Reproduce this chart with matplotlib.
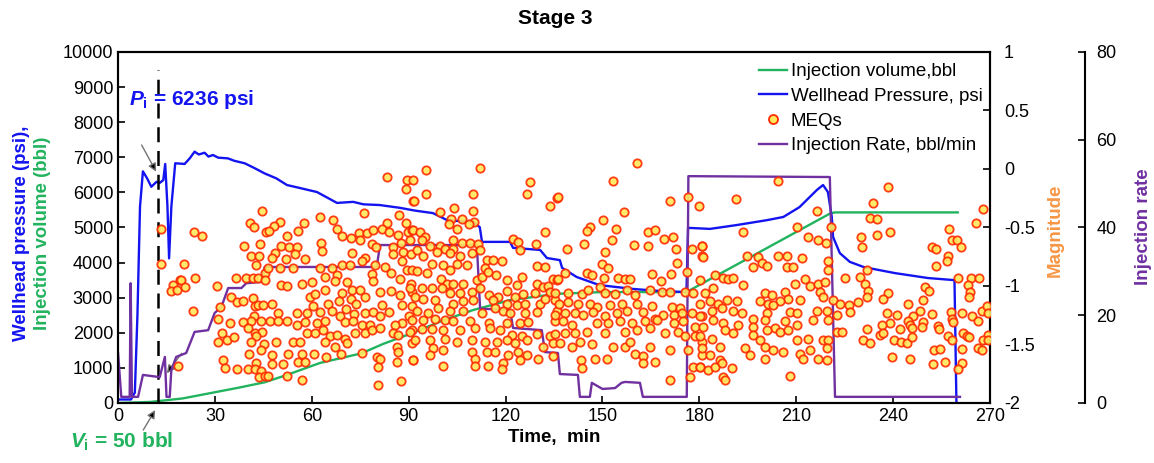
import matplotlib.pyplot as plt
from matplotlib.lines import Line2D
from matplotlib.ticker import FuncFormatter

plt.rcParams["font.family"] = ["Liberation Sans", "DejaVu Sans"]
plt.rcParams["font.size"] = 13
plt.rcParams["axes.unicode_minus"] = False
plt.rcParams["mathtext.fontset"] = "custom"
plt.rcParams["mathtext.it"] = "Liberation Sans:italic:bold"
plt.rcParams["mathtext.rm"] = "Liberation Sans:bold"
plt.rcParams["mathtext.bf"] = "Liberation Sans:bold"

BLUE = "#1414F0"
GREEN = "#22B35E"
PURPLE = "#7030A0"
ORANGE = "#F79646"
MEQ_FACE = "#FFE85C"
MEQ_EDGE = "#FF2A00"

# wellhead pressure, psi
whp_time = [0, 4.0, 5.2, 6.0, 6.8, 7.7, 9.0, 10.3, 11.9, 12.9, 14.0, 14.6, 15.3, 15.8, 16.5, 17.7,
            20.6, 22.2, 23.7, 25.0, 26.8, 28.0, 29.4, 31.0, 34.0, 36.0, 39.2, 42.3, 45.4, 49.0,
            52.3, 56.3, 61.6, 67.8, 72.8, 76.0, 81.0, 87.3, 92.0, 97.5, 101.9, 106.0, 110.0,
            112.0, 112.7, 121.4, 122.3, 130.7, 132.8, 136.8, 137.5, 142.0, 149.0, 159.4, 167.8,
            176.0, 176.5, 183.3, 191.6, 201.0, 206.0, 211.0, 216.4, 218.3, 219.8, 221.0, 221.4,
            223.5, 226.6, 231.0, 240.6, 250.8, 259.0, 259.6]
whp_psi = [100, 100, 300, 2500, 5600, 6600, 6400, 6160, 6300, 6270, 6350, 6810, 5590, 4120, 5590,
           6830, 6810, 6970, 7160, 7080, 7130, 7020, 7065, 6990, 6970, 6900, 6830, 6690, 6540,
           6400, 6210, 6125, 6010, 5700, 5730, 5660, 5640, 5560, 5480, 5410, 5210, 5180, 5160,
           5010, 4590, 4590, 4420, 4360, 4130, 4070, 3850, 3590, 3360, 3250, 3190, 3160, 4990,
           4960, 5070, 5210, 5300, 5580, 6070, 6210, 6010, 5300, 4730, 4270, 4020, 3870, 3700,
           3560, 3500, 0]

# cumulative injection volume, bbl
vol_time = [0, 10, 20, 28.5, 37, 45.4, 52.3, 62.5, 75.4, 82, 90.9, 100, 110, 121.4, 135.8, 150,
            176, 220.5, 222, 260]
vol_bbl = [0, 30, 130, 280, 430, 590, 800, 1140, 1415, 1680, 1985, 2330, 2650, 2930, 3110, 3160,
           3160, 5400, 5430, 5430]

# injection rate, bbl/min
rate_time = [0, 1.0, 3.6, 3.9, 4.3, 6.2, 7.7, 12.9, 14.5, 15.0, 16.0, 16.5, 18.0, 21.1, 23.7,
             27.9, 29.9, 32.0, 34.1, 38.2, 39.7, 44.4, 45.4, 80.1, 81.1, 111.1, 112.1, 121.4,
             122.3, 131.2, 132.2, 136.2, 136.8, 142.4, 143.0, 146.1, 146.7, 150, 153.9, 155.9,
             157.0, 161.6, 162.5, 176.1, 176.6, 220.4, 222.0, 260.7]
rate_bpm = [11.4, 1.4, 1.4, 27.3, 1.4, 1.4, 6.4, 5.9, 10.5, 1.4, 1.4, 7.5, 10.5, 11.4, 16.2, 16.6,
            20.5, 21.9, 26.2, 26.2, 27.3, 27.6, 31, 31, 36, 36, 21.5, 21.2, 17.1, 16.6, 11.6,
            11.4, 6.6, 6.4, 1.4, 1.4, 4.6, 3.2, 3.4, 4.6, 4.8, 4.6, 1.4, 1.4, 51.7, 51.5, 1.4, 1.4]

# microseismic events (time in min, magnitude)
meqs = [
    (13.4, -0.51), (13.4, -0.81), (23.5, -0.54), (26.0, -0.57), (20.4, -0.81), (23.7, -0.93),
    (19.1, -0.95), (17.0, -0.99), (16.5, -1.04), (18.4, -1.03), (19.6, -0.95), (20.8, -1.01),
    (23.2, -1.21), (30.6, -1.00), (31.7, -1.18), (31.0, -1.28), (32.3, -1.40), (33.8, -1.46),
    (31.0, -1.48), (35.9, -1.44), (34.6, -1.32), (36.6, -0.93), (39.7, -0.93), (41.8, -0.93),
    (43.3, -0.93), (44.7, -0.36), (40.8, -0.46), (42.0, -0.50), (45.9, -0.54), (43.9, -0.64),
    (39.0, -0.66), (41.1, -0.74), (43.5, -0.74), (42.8, -0.82), (45.4, -0.89), (35.1, -1.09),
    (36.8, -1.14), (38.7, -1.13), (41.8, -1.10), (42.3, -1.17), (43.3, -1.16), (44.9, -1.16),
    (42.1, -1.26), (44.4, -1.30), (41.1, -1.30), (38.7, -1.31), (40.2, -1.36), (42.3, -1.40),
    (44.6, -1.39), (42.8, -1.43), (41.3, -1.48), (45.1, -1.50), (44.4, -1.55), (40.6, -1.58),
    (42.8, -1.66), (32.5, -1.63), (33.0, -1.70), (36.8, -1.71), (40.2, -1.71), (42.3, -1.71),
    (44.4, -1.73), (43.5, -1.78), (45.4, -1.77), (18.6, -1.68),
    (83.4, -0.07), (89.6, -0.09), (89.1, -0.17), (91.2, -0.27), (76.3, -0.38), (87.1, -0.39),
    (62.5, -0.41), (66.7, -0.44), (50.1, -0.45), (57.6, -0.46), (48.4, -0.49), (46.7, -0.53),
    (55.8, -0.53), (83.2, -0.46), (89.1, -0.46), (67.7, -0.51), (69.4, -0.57), (52.4, -0.57),
    (72.1, -0.59), (74.6, -0.55), (77.0, -0.55), (78.8, -0.52), (81.6, -0.51), (83.9, -0.54),
    (86.6, -0.56), (89.9, -0.54), (90.9, -0.52), (62.8, -0.63), (63.0, -0.70), (50.5, -0.66),
    (52.9, -0.67), (55.3, -0.67), (48.6, -0.72), (47.6, -0.76), (51.9, -0.77), (54.8, -0.73),
    (57.9, -0.77), (72.5, -0.72), (76.5, -0.76), (78.5, -0.64), (79.8, -0.67), (85.0, -0.67),
    (87.6, -0.63), (88.3, -0.71), (85.2, -0.73), (87.8, -0.79), (90.7, -0.73), (74.9, -0.61),
    (46.5, -0.85), (50.1, -0.85), (54.3, -0.85), (62.5, -0.85), (66.1, -0.85), (69.4, -0.82),
    (71.8, -0.82), (75.4, -0.79), (79.6, -0.82), (82.7, -0.84), (89.4, -0.86), (84.5, -0.89),
    (87.3, -0.94), (45.5, -0.95), (50.5, -0.99), (52.2, -1.00), (56.9, -0.98), (60.0, -0.97),
    (64.1, -0.92), (67.7, -0.91), (67.2, -0.96), (70.8, -0.97), (78.5, -0.90), (79.0, -0.96),
    (90.7, -0.98), (64.1, -1.03), (72.5, -1.03), (74.9, -1.03), (69.4, -1.06), (76.5, -1.09),
    (72.1, -1.11), (73.6, -1.15), (81.1, -1.05), (84.5, -1.04), (87.3, -1.08), (90.9, -1.05),
    (47.6, -1.15), (59.4, -1.09), (61.0, -1.07), (60.5, -1.17), (68.4, -1.13), (64.9, -1.15),
    (66.1, -1.21), (62.5, -1.22), (49.6, -1.23), (55.3, -1.23), (58.4, -1.23), (70.5, -1.20),
    (73.2, -1.24), (76.5, -1.23), (79.0, -1.22), (81.6, -1.16), (87.8, -1.16), (90.9, -1.17),
    (83.9, -1.22), (90.1, -1.26), (47.0, -1.30), (49.6, -1.30), (52.2, -1.30), (55.3, -1.33),
    (57.9, -1.31), (61.5, -1.32), (64.1, -1.30), (68.7, -1.26), (70.3, -1.31), (72.8, -1.30),
    (75.4, -1.33), (78.0, -1.33), (81.1, -1.26), (87.8, -1.32), (85.7, -1.33), (58.4, -1.40),
    (61.0, -1.40), (63.6, -1.38), (65.6, -1.43), (67.7, -1.42), (70.3, -1.45), (73.4, -1.40),
    (76.5, -1.40), (78.5, -1.38), (81.1, -1.36), (85.2, -1.40), (86.8, -1.42), (90.9, -1.38),
    (48.8, -1.48), (54.3, -1.48), (56.3, -1.48), (64.1, -1.48), (67.2, -1.52), (70.8, -1.49),
    (75.4, -1.57), (86.3, -1.52), (86.8, -1.56), (90.9, -1.49), (47.6, -1.59), (52.5, -1.58),
    (57.1, -1.58), (60.7, -1.58), (64.3, -1.61), (69.0, -1.58), (80.1, -1.61), (81.1, -1.62),
    (91.4, -1.63), (47.6, -1.67), (51.2, -1.67), (55.8, -1.65), (57.9, -1.65), (80.4, -1.69),
    (86.3, -1.65), (46.5, -1.77), (52.2, -1.77), (56.9, -1.80), (80.6, -1.85), (87.6, -1.81),
    (112.1, 0.01), (95.4, -0.01), (91.4, -0.09), (127.5, -0.11), (126.5, -0.21), (135.8, -0.25),
    (133.7, -0.32), (95.4, -0.21), (109.8, -0.21), (91.6, -0.27), (104.1, -0.33), (99.7, -0.37),
    (109.8, -0.36), (103.0, -0.43), (106.4, -0.43), (110.2, -0.45), (108.8, -0.47), (102.6, -0.47),
    (104.9, -0.51), (91.4, -0.52), (93.5, -0.54), (95.0, -0.58), (90.4, -0.61), (94.0, -0.61),
    (103.8, -0.61), (106.4, -0.63), (109.0, -0.63), (111.6, -0.64), (122.4, -0.60), (123.9, -0.62),
    (124.5, -0.69), (129.4, -0.64), (132.2, -0.54), (96.6, -0.66), (99.7, -0.66), (101.2, -0.68),
    (103.8, -0.68), (92.5, -0.69), (94.5, -0.74), (98.7, -0.71), (102.8, -0.72), (105.9, -0.74),
    (109.5, -0.72), (112.1, -0.69), (114.1, -0.78), (116.2, -0.78), (118.8, -0.79), (129.6, -0.83),
    (132.2, -0.84), (97.1, -0.81), (100.7, -0.82), (104.9, -0.81), (107.9, -0.82), (113.6, -0.85),
    (90.9, -0.86), (92.7, -0.87), (95.6, -0.89), (102.8, -0.86), (117.0, -0.91), (125.0, -0.92),
    (134.8, -0.94), (99.9, -0.94), (101.8, -0.98), (103.8, -0.98), (106.9, -0.98), (111.0, -0.95),
    (112.6, -0.92), (114.7, -0.88), (120.3, -0.95), (123.4, -0.99), (129.6, -0.98), (131.7, -1.01),
    (133.2, -1.00), (135.8, -0.95), (90.4, -1.02), (94.0, -1.02), (97.1, -1.02), (100.2, -1.02),
    (102.8, -1.06), (105.9, -1.06), (109.5, -1.05), (112.1, -1.02), (115.0, -1.08), (117.7, -1.09),
    (120.3, -1.04), (122.9, -1.09), (125.5, -1.07), (129.1, -1.06), (133.7, -1.05), (135.3, -1.12),
    (92.0, -1.09), (94.5, -1.11), (98.1, -1.12), (103.8, -1.15), (106.9, -1.13), (110.0, -1.12),
    (116.2, -1.12), (120.3, -1.15), (123.4, -1.16), (126.0, -1.15), (130.7, -1.15), (132.2, -1.11),
    (92.5, -1.21), (96.1, -1.23), (99.2, -1.19), (102.8, -1.21), (106.9, -1.21), (112.6, -1.23),
    (116.7, -1.19), (119.3, -1.21), (121.4, -1.23), (126.0, -1.23), (129.6, -1.22), (135.8, -1.21),
    (90.9, -1.29), (94.5, -1.29), (98.1, -1.28), (101.2, -1.29), (103.8, -1.30), (109.0, -1.30),
    (115.0, -1.32), (120.3, -1.32), (124.5, -1.32), (127.0, -1.31), (135.3, -1.30), (90.4, -1.39),
    (94.0, -1.37), (97.1, -1.37), (100.7, -1.38), (105.9, -1.38), (110.5, -1.36), (115.2, -1.36),
    (118.3, -1.38), (121.9, -1.42), (125.0, -1.43), (129.6, -1.41), (133.7, -1.43), (92.0, -1.46),
    (96.6, -1.46), (101.2, -1.45), (104.9, -1.48), (109.5, -1.46), (113.6, -1.48), (117.2, -1.48),
    (120.3, -1.46), (122.9, -1.49), (126.5, -1.46), (131.7, -1.52), (134.8, -1.49), (97.6, -1.53),
    (100.7, -1.55), (109.5, -1.56), (114.1, -1.56), (116.7, -1.56), (120.8, -1.59), (123.9, -1.56),
    (126.5, -1.59), (130.1, -1.62), (134.8, -1.60), (91.2, -1.63), (96.6, -1.59), (100.7, -1.68),
    (110.5, -1.62), (119.3, -1.66), (124.5, -1.63), (110.5, -1.68), (114.7, -1.68), (118.8, -1.71),
    (160.6, 0.05), (153.4, -0.10), (136.1, -0.24), (170.9, -0.27), (176.6, -0.24), (179.9, -0.32),
    (156.8, -0.37), (150.1, -0.44), (146.1, -0.50), (145.1, -0.53), (154.1, -0.51), (144.4, -0.64),
    (153.1, -0.61), (164.0, -0.54), (166.3, -0.52), (169.1, -0.60), (171.9, -0.58), (138.9, -0.68),
    (150.8, -0.71), (159.9, -0.65), (164.0, -0.66), (172.8, -0.68), (177.8, -0.68), (180.7, -0.66),
    (136.3, -0.94), (138.4, -0.89), (145.1, -0.89), (146.7, -0.91), (149.7, -0.81), (151.6, -0.85),
    (150.6, -0.93), (154.9, -0.93), (157.0, -0.94), (158.5, -0.94), (165.4, -0.90), (168.1, -0.96),
    (171.2, -0.90), (173.0, -0.80), (176.1, -0.88), (180.7, -0.74), (180.2, -0.95), (135.3, -1.06),
    (139.4, -1.06), (143.6, -1.07), (145.6, -1.03), (149.2, -1.01), (150.8, -1.06), (153.9, -1.07),
    (157.5, -1.03), (160.1, -1.08), (164.7, -1.03), (168.3, -1.05), (170.9, -1.05), (175.5, -1.05),
    (178.1, -1.06), (136.5, -1.15), (139.4, -1.14), (142.5, -1.15), (146.1, -1.15), (148.2, -1.18),
    (152.3, -1.16), (155.9, -1.15), (160.6, -1.15), (165.2, -1.17), (171.4, -1.18), (174.0, -1.19),
    (135.3, -1.25), (138.4, -1.23), (141.5, -1.23), (144.1, -1.25), (147.2, -1.22), (150.8, -1.26),
    (154.4, -1.23), (157.5, -1.21), (162.6, -1.22), (166.3, -1.28), (168.8, -1.25), (172.0, -1.25),
    (174.5, -1.23), (177.6, -1.23), (180.7, -1.26), (137.9, -1.30), (140.5, -1.33), (148.2, -1.32),
    (151.8, -1.32), (155.4, -1.30), (159.0, -1.32), (163.2, -1.30), (166.8, -1.29), (172.0, -1.32),
    (175.0, -1.30), (178.6, -1.35), (135.3, -1.41), (138.4, -1.40), (141.5, -1.40), (145.1, -1.39),
    (150.8, -1.40), (157.0, -1.39), (160.6, -1.38), (164.7, -1.36), (169.4, -1.40), (173.5, -1.39),
    (175.5, -1.43), (178.6, -1.43), (136.8, -1.49), (140.5, -1.52), (143.0, -1.48), (146.7, -1.50),
    (153.4, -1.52), (157.0, -1.52), (158.5, -1.48), (164.7, -1.52), (180.7, -1.48), (143.4, -1.63),
    (147.7, -1.62), (151.3, -1.62), (160.1, -1.58), (162.6, -1.60), (166.3, -1.65), (170.9, -1.55),
    (176.6, -1.55), (180.7, -1.59), (143.6, -1.70), (162.6, -1.66), (170.9, -1.80), (177.1, -1.78),
    (178.1, -1.69), (180.2, -1.69),
    (204.5, -0.10), (191.3, -0.26), (216.3, -0.36), (210.1, -0.50), (193.6, -0.54), (220.8, -0.50),
    (213.7, -0.58), (216.8, -0.61), (219.2, -0.63), (180.7, -0.66), (181.2, -0.75), (194.6, -0.74),
    (198.3, -0.75), (199.3, -0.80), (200.8, -0.83), (204.5, -0.74), (207.0, -0.74), (211.7, -0.76),
    (196.7, -0.84), (207.2, -0.84), (209.1, -0.84), (219.9, -0.79), (219.9, -0.86), (184.8, -0.91),
    (187.4, -0.93), (189.0, -0.94), (190.5, -0.93), (193.6, -0.99), (209.6, -0.98), (212.7, -0.94),
    (214.3, -1.00), (216.8, -0.98), (218.9, -0.97), (181.7, -1.06), (184.3, -1.02), (180.2, -1.15),
    (183.3, -1.13), (185.9, -1.15), (188.5, -1.12), (191.6, -1.13), (200.3, -1.06), (202.4, -1.08),
    (206.5, -1.05), (207.5, -1.11), (205.0, -1.13), (198.8, -1.13), (201.4, -1.15), (202.9, -1.16),
    (211.2, -1.12), (217.4, -1.05), (218.2, -1.09), (221.5, -1.12), (223.5, -1.15), (180.2, -1.26),
    (183.8, -1.21), (186.9, -1.19), (190.5, -1.21), (193.1, -1.23), (196.7, -1.28), (200.8, -1.23),
    (208.1, -1.22), (210.1, -1.23), (216.3, -1.21), (219.4, -1.21), (181.2, -1.35), (184.3, -1.29),
    (187.4, -1.32), (192.1, -1.33), (196.7, -1.35), (200.3, -1.29), (203.4, -1.36), (206.5, -1.30),
    (210.1, -1.33), (215.3, -1.29), (219.9, -1.29), (222.5, -1.25), (180.2, -1.43), (183.8, -1.45),
    (187.9, -1.38), (190.5, -1.40), (196.7, -1.42), (200.8, -1.38), (205.0, -1.39), (207.5, -1.38),
    (210.1, -1.46), (213.7, -1.45), (218.4, -1.46), (219.9, -1.46), (222.5, -1.39), (224.1, -1.39),
    (180.7, -1.53), (186.4, -1.52), (194.1, -1.53), (198.8, -1.46), (200.3, -1.52), (202.9, -1.55),
    (206.0, -1.56), (211.2, -1.58), (214.3, -1.55), (219.4, -1.53), (183.3, -1.59), (195.7, -1.59),
    (200.3, -1.62), (212.2, -1.62), (216.8, -1.62), (219.4, -1.63), (180.2, -1.69), (182.8, -1.72),
    (184.8, -1.69), (186.4, -1.63), (186.9, -1.66), (190.0, -1.70), (187.2, -1.78), (187.9, -1.80),
    (208.1, -1.77),
    (238.3, -0.15), (233.9, -0.29), (267.9, -0.34), (232.8, -0.42), (235.1, -0.43), (265.7, -0.46),
    (230.1, -0.58), (234.9, -0.56), (239.0, -0.54), (257.3, -0.51), (258.1, -0.61), (259.7, -0.61),
    (230.5, -0.67), (251.9, -0.67), (253.2, -0.68), (261.0, -0.67), (257.1, -0.74), (256.6, -0.79),
    (253.2, -0.83), (231.8, -0.86), (229.7, -0.92), (231.3, -0.98), (232.3, -1.04), (231.8, -1.09),
    (260.2, -0.93), (264.1, -0.93), (266.7, -0.93), (263.3, -0.99), (263.8, -1.05), (263.5, -1.09),
    (225.1, -0.93), (249.9, -1.01), (251.1, -1.04), (238.5, -1.06), (237.0, -1.11), (249.4, -1.12),
    (226.3, -1.16), (229.2, -1.14), (244.7, -1.15), (248.3, -1.21), (251.9, -1.24), (226.6, -1.22),
    (238.0, -1.23), (241.1, -1.25), (246.3, -1.26), (257.9, -1.22), (261.2, -1.23), (267.4, -1.21),
    (269.0, -1.17), (269.5, -1.23), (239.0, -1.32), (236.5, -1.33), (244.7, -1.30), (245.2, -1.33),
    (249.4, -1.31), (253.8, -1.34), (258.1, -1.28), (258.6, -1.31), (264.5, -1.26), (266.4, -1.30),
    (231.8, -1.37), (235.9, -1.42), (237.0, -1.40), (242.1, -1.37), (245.7, -1.36), (248.8, -1.35),
    (254.2, -1.37), (261.7, -1.40), (262.8, -1.43), (263.6, -1.44), (269.5, -1.42), (230.8, -1.46),
    (232.8, -1.49), (240.4, -1.46), (242.4, -1.48), (244.2, -1.49), (245.7, -1.44), (257.1, -1.43),
    (258.1, -1.46), (267.9, -1.46), (269.5, -1.46), (252.8, -1.55), (254.5, -1.54), (261.2, -1.54),
    (266.4, -1.53), (267.4, -1.55), (239.5, -1.61), (245.2, -1.62), (256.1, -1.65), (252.4, -1.67),
    (261.2, -1.66), (260.2, -1.71),
]
meq_time = [t for t, _ in meqs]
meq_mag = [m for _, m in meqs]

# initial breakdown markers
t_init = 12.4
p_init_label = r"$P_\mathrm{i}$ = 6236 psi"
v_init_label = r"$V_\mathrm{i}$ = 50 bbl"

fig = plt.figure(figsize=(11.54, 4.63), dpi=100)
ax = fig.add_axes([0.1023, 0.1296, 0.7556, 0.7581])
ax_rate = ax.twinx()
ax_mag = ax.twinx()

ax.plot(vol_time, vol_bbl, color=GREEN, lw=1.7)
ax.plot(whp_time, whp_psi, color=BLUE, lw=1.7)
ax.plot([t_init, t_init], [0, 9500], color="k", lw=1.8, dashes=(6, 3.5))

ax.set_xlim(0, 270)
ax.set_ylim(0, 10000)
ax.set_xticks(range(0, 271, 30))
ax.set_yticks(range(0, 10001, 1000))
ax.tick_params(direction="in", length=5, width=1.2, labelsize=13, right=False, top=False)
ax.set_xlabel("Time,  min", fontsize=13.5, fontweight="bold", labelpad=3)

ax_rate.plot(rate_time, rate_bpm, color=PURPLE, lw=1.7)
ax_rate.set_ylim(0, 80)
ax_rate.set_yticks(range(0, 81, 20))
ax_rate.spines["right"].set_position(("axes", 1.109))
for side in ("left", "top", "bottom"):
    ax_rate.spines[side].set_visible(False)
ax_rate.spines["right"].set_linewidth(1.5)
ax_rate.tick_params(axis="y", direction="in", length=5, width=1.2, labelsize=13, pad=8)

ax_mag.scatter(meq_time, meq_mag, s=36, facecolor=MEQ_FACE, edgecolor=MEQ_EDGE,
               linewidths=1.3, alpha=0.9, zorder=3)
ax_mag.set_ylim(-2, 1)
ax_mag.set_yticks([-2, -1.5, -1, -0.5, 0, 0.5, 1])
ax_mag.yaxis.set_major_formatter(FuncFormatter(lambda v, _: f"{v:g}"))
ax_mag.tick_params(axis="y", direction="in", length=5, width=1.2, labelsize=13, pad=10)
for sp in ax_mag.spines.values():
    sp.set_linewidth(1.5)
for sp in ax.spines.values():
    sp.set_linewidth(1.5)

# annotations for initial pressure and volume
ax.text(3.5, 8650, p_init_label, color=BLUE, fontsize=15, fontweight="bold", va="center")
arrow = dict(arrowstyle="-|>", ec="0.45", fc="k", lw=1, mutation_scale=12, shrinkA=0, shrinkB=0)
ax.annotate("", xy=(11.8, 6590), xytext=(7.3, 7350), arrowprops=arrow)
ax.annotate("", xy=(15.1, 846), xytext=(19.7, 1416), arrowprops=arrow)
ax.annotate("", xy=(11.5, -200), xytext=(7.8, -770), arrowprops=arrow, annotation_clip=False)
ax.text(-14.9, -1110, v_init_label, color=GREEN, fontsize=15, fontweight="bold",
        va="center", clip_on=False)

handles = [
    Line2D([], [], color=GREEN, lw=1.7),
    Line2D([], [], color=BLUE, lw=1.7),
    Line2D([], [], marker="o", ls="none", ms=6.5, mfc=MEQ_FACE, mec=MEQ_EDGE, mew=1.3),
    Line2D([], [], color=PURPLE, lw=1.7),
]
labels = ["Injection volume,bbl", "Wellhead Pressure, psi", "MEQs", "Injection Rate, bbl/min"]
ax_mag.legend(handles, labels, loc="upper left", bbox_to_anchor=(0.722, 1.0), frameon=False,
              fontsize=13.5, handlelength=1.5, handletextpad=0.2, labelspacing=0.4,
              borderaxespad=0.2)

fig.text(555 / 1154, 1 - 18 / 463, "Stage 3", fontsize=15, fontweight="bold",
         ha="center", va="center")
fig.text(22 / 1154, 1 - 233 / 463, "Wellhead pressure (psi),", rotation=90, color=BLUE,
         fontsize=13.5, fontweight="bold", ha="center", va="center")
fig.text(43 / 1154, 1 - 233 / 463, "Injection volume (bbl)", rotation=90, color=GREEN,
         fontsize=13.5, fontweight="bold", ha="center", va="center")
fig.text(1055 / 1154, 1 - 230 / 463, "Magnitude", rotation=90, color=ORANGE,
         fontsize=13.5, fontweight="bold", ha="center", va="center")
fig.text(1143 / 1154, 1 - 227 / 463, "Injection rate", rotation=90, color=PURPLE,
         fontsize=13.5, fontweight="bold", ha="center", va="center")

fig.savefig("out.png", dpi=100)
